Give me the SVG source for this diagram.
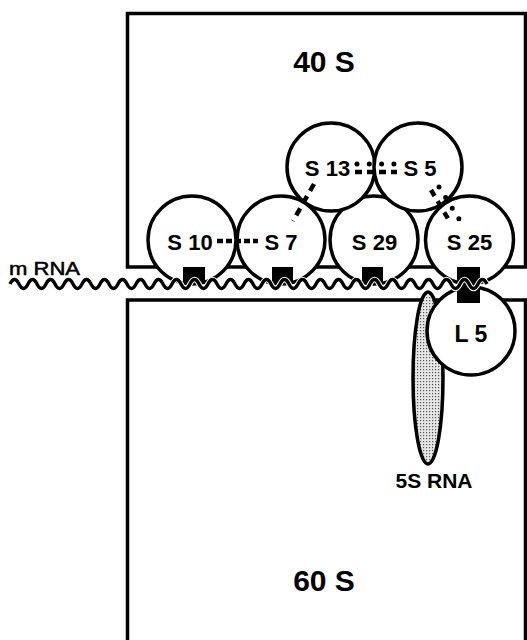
<svg xmlns="http://www.w3.org/2000/svg" width="527" height="640" viewBox="0 0 527 640">
  <style>
    .sub { fill: #fff; stroke: #000; stroke-width: 3.5; }
    .prot { fill: #fff; stroke: #000; stroke-width: 3.5; }
    .lbl { font-family: "Liberation Sans", Arial, sans-serif; font-weight: bold; font-size: 22px; fill: #000; text-anchor: middle; }
    .big { font-size: 30px; }
    .anchor { fill: #000; }
    .dash { stroke: #000; stroke-width: 4.5; fill: none; }
    .dot { stroke: #000; stroke-width: 5; stroke-linecap: round; fill: none; }
  </style>
  <defs>
    <pattern id="stipple" width="3" height="3" patternUnits="userSpaceOnUse">
      <rect width="3" height="3" fill="#e6e6e6"/>
      <rect width="1.2" height="1.2" fill="#555"/>
    </pattern>
    <path id="wave" d="M10,284 q4.5,-9 9,0 t9,0 t9,0 t9,0 t9,0 t9,0 t9,0 t9,0 t9,0 t9,0 t9,0 t9,0 t9,0 t9,0 t9,0 t9,0 t9,0 t9,0 t9,0 t9,0 t9,0 t9,0 t9,0 t9,0 t9,0 t9,0 t9,0 t9,0 t9,0 t9,0 t9,0 t9,0 t9,0 t9,0 t9,0 t9,0 t9,0 t9,0 t9,0 t9,0 t9,0 t9,0 t9,0 t9,0 t9,0 t9,0 t9,0 t9,0 t9,0 t9,0 t9,0 t9,0 t9,0" fill="none"/>
  </defs>

  <rect width="527" height="640" fill="#fff"/>

  <!-- small subunit -->
  <g id="sub40S">
    <rect class="sub" x="127.5" y="13.5" width="398" height="253.5"/>
    <text class="lbl big" x="324" y="72">40 S</text>
  </g>

  <!-- large subunit -->
  <g id="sub60S">
    <rect class="sub" x="127.5" y="300" width="398" height="360"/>
    <text class="lbl big" x="324" y="591">60 S</text>
  </g>

  <!-- 5S ribosomal RNA -->
  <g id="rna5S">
    <ellipse cx="428" cy="378" rx="15" ry="86" fill="url(#stipple)" stroke="#000" stroke-width="3.5"/>
    <text class="lbl" x="434" y="488" style="font-size:21px">5S RNA</text>
  </g>

  <!-- ribosomal proteins -->
  <g id="L5">
    <circle class="prot" cx="471" cy="331" r="44"/>
    <text class="lbl" x="471" y="342" style="font-size:23px">L 5</text>
  </g>
  <g id="S10">
    <circle class="prot" cx="192" cy="240" r="44"/>
    <text class="lbl" x="190" y="250">S 10</text>
  </g>
  <g id="S7">
    <circle class="prot" cx="281" cy="240" r="44"/>
    <text class="lbl" x="281" y="250">S 7</text>
  </g>
  <g id="S29">
    <circle class="prot" cx="374" cy="240" r="44"/>
    <text class="lbl" x="374.5" y="250">S 29</text>
  </g>
  <g id="S25">
    <circle class="prot" cx="469.5" cy="240" r="44"/>
    <text class="lbl" x="469.5" y="250">S 25</text>
  </g>
  <g id="S13">
    <circle class="prot" cx="331" cy="167" r="44"/>
    <text class="lbl" x="327.5" y="176">S 13</text>
  </g>
  <g id="S5">
    <circle class="prot" cx="418" cy="167" r="44"/>
    <text class="lbl" x="420" y="176">S 5</text>
  </g>

  <!-- mRNA contact blocks -->
  <g id="contacts">
    <rect class="anchor" x="183" y="267" width="22" height="16"/>
    <rect class="anchor" x="272" y="267" width="21" height="16"/>
    <rect class="anchor" x="362" y="267" width="21" height="16"/>
    <rect class="anchor" x="457" y="267" width="23" height="36"/>
  </g>

  <!-- messenger RNA -->
  <g id="mRNA">
    <use href="#wave" stroke="#fff" stroke-width="5.5"/>
    <use href="#wave" stroke="#000" stroke-width="3.4"/>
    <text x="9" y="275" font-family="Liberation Sans, Arial, sans-serif" font-size="18" stroke="#000" stroke-width="0.5" textLength="71" lengthAdjust="spacingAndGlyphs">m RNA</text>
  </g>

  <!-- protein–protein contacts -->
  <g id="connectors">
    <line class="dash" x1="217" y1="241" x2="258" y2="241" stroke-dasharray="6 3"/>
    <line class="dash" x1="314" y1="184" x2="293" y2="221" stroke-dasharray="8 6"/>
    <line class="dot" x1="357" y1="164" x2="394" y2="164" stroke-dasharray="0 12.3"/>
    <line class="dash" x1="355" y1="172" x2="397" y2="172" stroke-dasharray="7 5"/>
    <line class="dot" x1="439" y1="187" x2="459" y2="219" stroke-dasharray="0 12.5"/>
    <line class="dash" x1="431" y1="190" x2="450" y2="222" stroke-dasharray="7 6"/>
  </g>
</svg>
